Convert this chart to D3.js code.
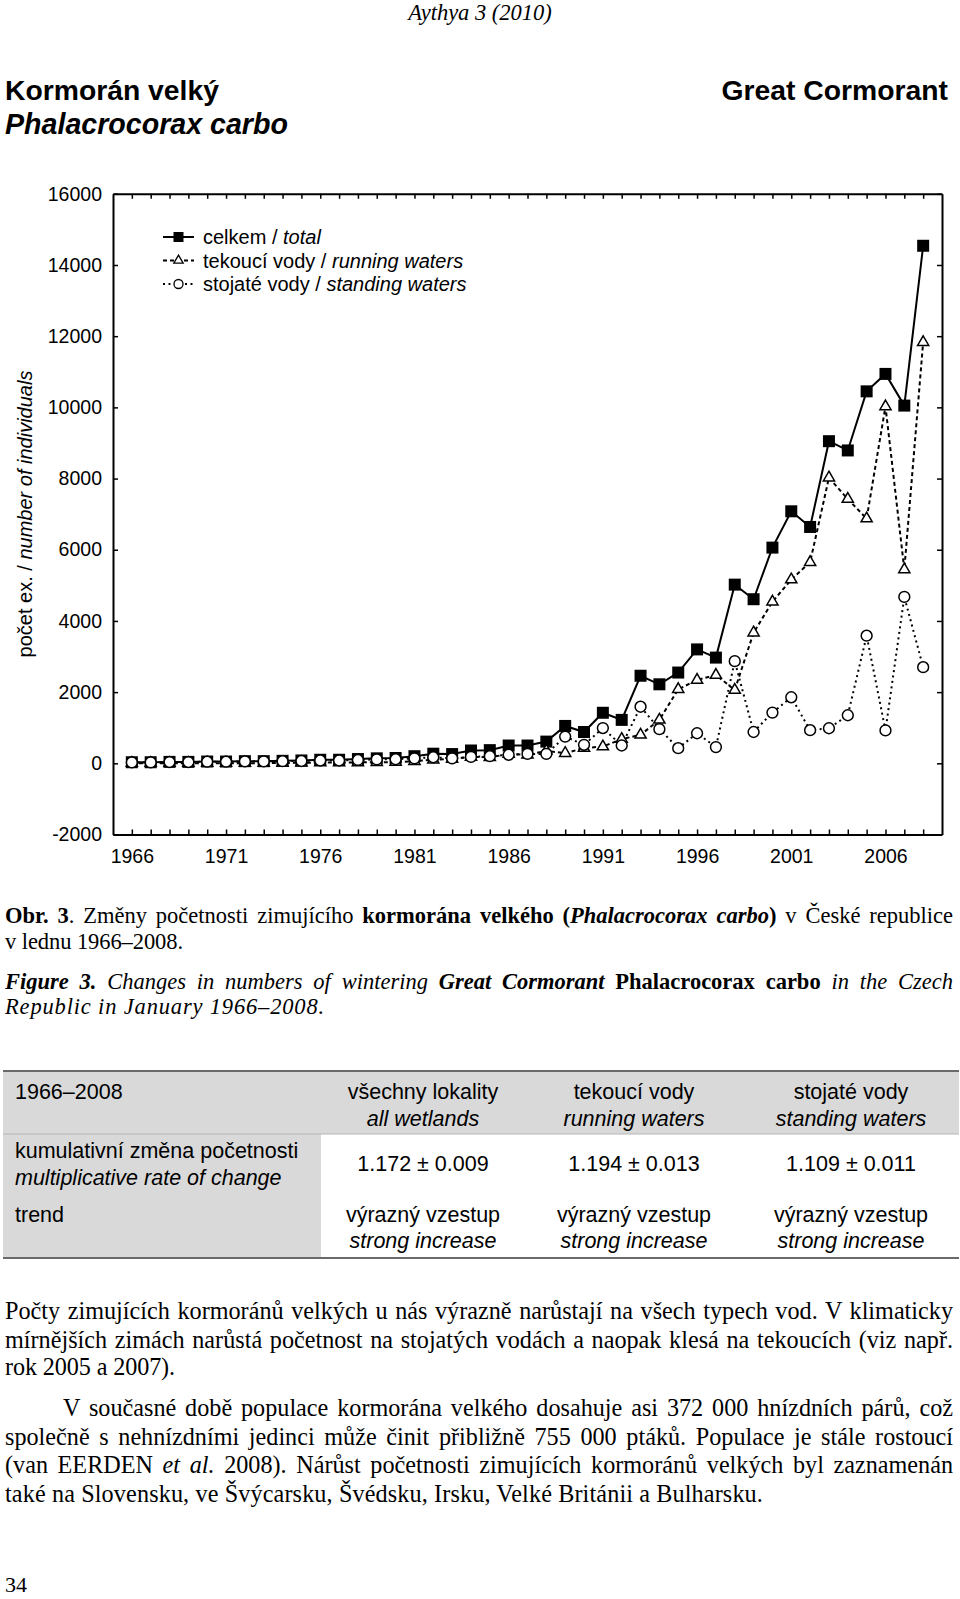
<!DOCTYPE html>
<html>
<head>
<meta charset="utf-8">
<script src="https://cdn.jsdelivr.net/npm/d3@7"></script>
<style>
  body { margin: 0; background: #fff; }
  svg { display: block; }
</style>
</head>
<body>
<svg id="page" width="960" height="1599"></svg>
<script>
// wintering counts, January 1966-2008
const years = [1966, 1967, 1968, 1969, 1970, 1971, 1972, 1973, 1974, 1975,
  1976, 1977, 1978, 1979, 1980, 1981, 1982, 1983, 1984, 1985,
  1986, 1987, 1988, 1989, 1990, 1991, 1992, 1993, 1994, 1995,
  1996, 1997, 1998, 1999, 2000, 2001, 2002, 2003, 2004, 2005,
  2006, 2007, 2008];
const total = [30, 30, 40, 40, 50, 50, 60, 60, 70, 80,
  100, 100, 120, 140, 150, 200, 270, 260, 360, 370,
  500, 500, 610, 1050, 880, 1420, 1220, 2460, 2220, 2550,
  3200, 2970, 5020, 4610, 6060, 7080, 6640, 9050, 8790, 10450,
  10940, 10050, 14540];
const running = [5, 5, 5, 5, 5, 5, 5, 5, 10, 15,
  20, 20, 25, 30, 35, 60, 100, 120, 180, 170,
  260, 240, 350, 285, 430, 470, 680, 800, 1220, 2080,
  2340, 2480, 2060, 3670, 4540, 5160, 5650, 8025, 7425, 6875,
  10025, 5445, 11830];
const standing = [25, 25, 35, 35, 45, 45, 55, 55, 60, 65,
  80, 80, 95, 110, 115, 140, 170, 140, 180, 200,
  240, 265, 265, 750, 520, 990, 500, 1590, 960, 425,
  845, 455, 2870, 880, 1425, 1855, 930, 985, 1350, 3585,
  925, 4675, 2700];

const yTicks = [-2000, 0, 2000, 4000, 6000, 8000, 10000, 12000, 14000, 16000];
const xLabelYears = [1966, 1971, 1976, 1981, 1986, 1991, 1996, 2001, 2006];

const legendLabels = [
  ['celkem / ', 'total'],
  ['tekoucí vody / ', 'running waters'],
  ['stojaté vody / ', 'standing waters'],
];

const tableHead = ['1966–2008', 'všechny lokality', 'tekoucí vody', 'stojaté vody'];
const tableHeadEn = ['', 'all wetlands', 'running waters', 'standing waters'];
const rateLabel = ['kumulativní změna početnosti', 'multiplicative rate of change'];
const rates = ['1.172 ± 0.009', '1.194 ± 0.013', '1.109 ± 0.011'];
const trends = ['výrazný vzestup', 'výrazný vzestup', 'výrazný vzestup'];
const trendsEn = ['strong increase', 'strong increase', 'strong increase'];

const serif = '"Liberation Serif", "Times New Roman", serif';
const sans = '"Liberation Sans", Arial, Helvetica, sans-serif';

const svg = d3.select('#page');

function textLine(x, y, parts, opts = {}) {
  const t = svg
    .append('text')
    .attr('x', x)
    .attr('y', y)
    .attr('text-anchor', opts.anchor || 'start')
    .style('font-family', opts.family || serif)
    .style('font-size', `${opts.size || 22}px`)
    .attr('fill', '#000');
  parts.forEach(([s, st]) => {
    const span = t.append('tspan').text(s);
    if (st && st.includes('b')) span.style('font-weight', 'bold');
    if (st && st.includes('i')) span.style('font-style', 'italic');
  });
  const str = parts.map((p) => p[0]).join('');
  const natural = opts.width || opts.fit ? t.node().getComputedTextLength() : 0;
  // justify: spread the leftover width over the spaces
  if (opts.width) {
    const spaces = str.split(' ').length - 1;
    if (spaces > 0) {
      t.style('word-spacing', `${(opts.width - natural) / spaces}px`);
    }
  }
  // last lines: nudge letter spacing so the line ends where it does in print
  if (opts.fit) {
    t.style('letter-spacing', `${(opts.fit - natural) / str.length}px`);
  }
  return t;
}

// page header
textLine(480, 20, [['Aythya 3 (2010)', 'i']], { anchor: 'middle', size: 22.5 });
textLine(5, 100, [['Kormorán velký', 'b']], { family: sans, size: 28.3 });
textLine(5, 134, [['Phalacrocorax carbo', 'bi']], { family: sans, size: 28.6 });
textLine(948, 100, [['Great Cormorant', 'b']], { family: sans, size: 28.3, anchor: 'end' });

// ---- chart ----
const x = d3.scaleLinear().domain([1965, 2009]).range([113, 942]);
const y = d3.scaleLinear().domain([-2000, 16000]).range([834.5, 193.8]);

const chart = svg.append('g');

function styleAxis(g) {
  g.attr('font-family', sans).attr('font-size', 19.5);
  g.select('.domain').attr('stroke', '#000').attr('stroke-width', 2);
  g.selectAll('.tick line').attr('stroke', '#000').attr('stroke-width', 1.5);
  g.selectAll('.tick text').attr('fill', '#000');
}

chart
  .append('g')
  .attr('transform', `translate(0,${y(-2000)})`)
  .call(
    d3
      .axisBottom(x)
      .tickValues(years)
      .tickSize(-5)
      .tickSizeOuter(0)
      .tickPadding(14.7)
      .tickFormat((d) => (xLabelYears.includes(d) ? String(d) : '')),
  )
  .call(styleAxis);

chart
  .append('g')
  .attr('transform', `translate(0,${y(16000)})`)
  .call(d3.axisTop(x).tickValues(years).tickSize(-5).tickSizeOuter(0).tickFormat(''))
  .call(styleAxis);

chart
  .append('g')
  .attr('transform', `translate(${x(1965)},0)`)
  .call(
    d3
      .axisLeft(y)
      .tickValues(yTicks)
      .tickSize(-5)
      .tickSizeOuter(0)
      .tickPadding(11)
      .tickFormat((d) => String(d)),
  )
  .call(styleAxis);

chart
  .append('g')
  .attr('transform', `translate(${x(2009)},0)`)
  .call(d3.axisRight(y).tickValues(yTicks).tickSize(-5).tickSizeOuter(0).tickFormat(''))
  .call(styleAxis);

// y axis title
const yTitle = svg
  .append('text')
  .attr('transform', 'translate(31.5,514) rotate(-90)')
  .attr('text-anchor', 'middle')
  .style('font-family', sans)
  .style('font-size', '20px');
yTitle.append('tspan').text('počet ex. / ');
yTitle.append('tspan').style('font-style', 'italic').text('number of individuals');

const series = [
  { values: total, dash: null, symbol: d3.symbolSquare, size: 144, fill: '#000' },
  { values: running, dash: '4,3', symbol: d3.symbolTriangle, size: 54, fill: '#fff' },
  { values: standing, dash: '2,3.5', symbol: d3.symbolCircle, size: 92, fill: '#fff' },
];

const line = d3
  .line()
  .x((d, i) => x(years[i]))
  .y((d) => y(d));

series.forEach((s) => {
  chart
    .append('path')
    .attr('d', line(s.values))
    .attr('fill', 'none')
    .attr('stroke', '#000')
    .attr('stroke-width', 2)
    .attr('stroke-dasharray', s.dash);
});

series.forEach((s) => {
  chart
    .append('g')
    .selectAll('path')
    .data(s.values)
    .join('path')
    .attr('transform', (d, i) => `translate(${x(years[i])},${y(d)})`)
    .attr('d', d3.symbol(s.symbol, s.size))
    .attr('fill', s.fill)
    .attr('stroke', '#000')
    .attr('stroke-width', s.fill === '#000' ? 0 : 1.5);
});

// legend
const legendSizes = [100, 38, 64];
legendLabels.forEach((lbl, i) => {
  const ly = 237 + i * 23.5;
  const s = series[i];
  chart
    .append('line')
    .attr('x1', 163)
    .attr('x2', 194)
    .attr('y1', ly)
    .attr('y2', ly)
    .attr('stroke', '#000')
    .attr('stroke-width', 2)
    .attr('stroke-dasharray', s.dash);
  chart
    .append('path')
    .attr('transform', `translate(178.5,${ly})`)
    .attr('d', d3.symbol(s.symbol, legendSizes[i]))
    .attr('fill', s.fill)
    .attr('stroke', '#000')
    .attr('stroke-width', s.fill === '#000' ? 0 : 1.3);
  textLine(203, ly + 7, [[lbl[0], ''], [lbl[1], 'i']], { family: sans, size: 20 });
});

// ---- caption ----
const cs = 22.5;
textLine(5, 923, [
  ['Obr. 3', 'b'],
  ['. Změny početnosti zimujícího ', ''],
  ['kormorána velkého', 'b'],
  [' (', 'b'],
  ['Phalacrocorax carbo', 'bi'],
  [')', 'b'],
  [' v České republice', ''],
], { size: cs, width: 948 });
textLine(5, 949, [['v lednu 1966–2008.', '']], { size: cs, fit: 178 });
textLine(5, 988.5, [
  ['Figure 3.', 'bi'],
  [' Changes in numbers of wintering ', 'i'],
  ['Great Cormorant', 'bi'],
  [' Phalacrocorax carbo', 'b'],
  [' in the Czech', 'i'],
], { size: cs, width: 948 });
textLine(5, 1014, [['Republic in January 1966–2008.', 'i']], { size: cs, fit: 320 });

// ---- table ----
const tableColX = [15, 423, 634, 851];
svg.append('rect').attr('x', 3).attr('y', 1071).attr('width', 956).attr('height', 63).attr('fill', '#d9d9d9');
svg.append('rect').attr('x', 3).attr('y', 1134).attr('width', 318).attr('height', 124).attr('fill', '#d9d9d9');
svg.append('line').attr('x1', 3).attr('x2', 959).attr('y1', 1134).attr('y2', 1134).attr('stroke', '#b5b5b5').attr('stroke-width', 1);
svg.append('line').attr('x1', 3).attr('x2', 959).attr('y1', 1071).attr('y2', 1071).attr('stroke', '#6a6a6a').attr('stroke-width', 2);
svg.append('line').attr('x1', 3).attr('x2', 959).attr('y1', 1258).attr('y2', 1258).attr('stroke', '#6a6a6a').attr('stroke-width', 2);

const tOpt = (i) => ({ family: sans, size: 21.5, anchor: i === 0 ? 'start' : 'middle' });
tableHead.forEach((h, i) => textLine(tableColX[i], 1099, [[h, '']], tOpt(i)));
tableHeadEn.forEach((h, i) => textLine(tableColX[i], 1126, [[h, 'i']], tOpt(i)));
textLine(tableColX[0], 1158, [[rateLabel[0], '']], tOpt(0));
textLine(tableColX[0], 1185, [[rateLabel[1], 'i']], tOpt(0));
rates.forEach((r, i) => textLine(tableColX[i + 1], 1171, [[r, '']], tOpt(i + 1)));
textLine(tableColX[0], 1222, [['trend', '']], tOpt(0));
trends.forEach((r, i) => textLine(tableColX[i + 1], 1222, [[r, '']], tOpt(i + 1)));
trendsEn.forEach((r, i) => textLine(tableColX[i + 1], 1248, [[r, 'i']], tOpt(i + 1)));

// ---- body text ----
const ps = 24.2;
textLine(5, 1319, [['Počty zimujících kormoránů velkých u nás výrazně narůstají na všech typech vod. V klimaticky', '']], { size: ps, width: 948 });
textLine(5, 1348, [['mírnějších zimách narůstá početnost na stojatých vodách a naopak klesá na tekoucích (viz např.', '']], { size: ps, width: 948 });
textLine(5, 1375, [['rok 2005 a 2007).', '']], { size: ps, fit: 170 });
textLine(63, 1416, [['V současné době populace kormorána velkého dosahuje asi 372 000 hnízdních párů, což', '']], { size: ps, width: 890 });
textLine(5, 1445, [['společně s nehnízdními jedinci může činit přibližně 755 000 ptáků. Populace je stále rostoucí', '']], { size: ps, width: 948 });
textLine(5, 1473, [
  ['(van EERDEN ', ''],
  ['et al.', 'i'],
  [' 2008). Nárůst početnosti zimujících kormoránů velkých byl zaznamenán', ''],
], { size: ps, width: 948 });
textLine(5, 1502, [['také na Slovensku, ve Švýcarsku, Švédsku, Irsku, Velké Británii a Bulharsku.', '']], { size: ps, fit: 758 });

textLine(5, 1592, [['34', '']], { size: 22 });
</script>
</body>
</html>
